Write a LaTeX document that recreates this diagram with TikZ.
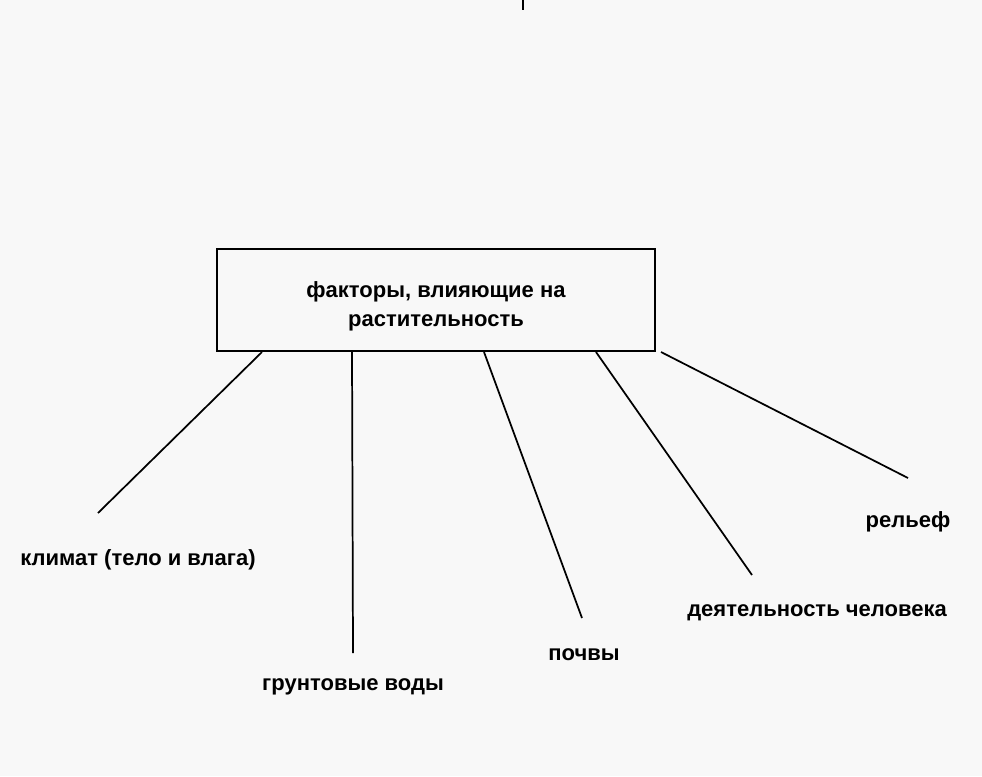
\documentclass[tikz,border=0pt]{standalone}
\usepackage{fontspec}
\setmainfont{Liberation Sans}
\usepackage{tikz}
\usetikzlibrary{calc}
\definecolor{paper}{RGB}{248,248,248}

\begin{document}
\begin{tikzpicture}[x=0.75pt, y=-0.75pt, font=\bfseries\fontsize{16.5}{21.75}\selectfont]
        \fill[paper] (0,0) rectangle (982,776);
        \useasboundingbox (0,0) rectangle (982,776);
        \draw[line width=1.3pt] (523,0) -- (523,10);

        % Main box
        \node[draw, line width=1.5pt, minimum width=328.5pt, minimum height=76.5pt, align=center] (box) at (436,300) {\rule{0pt}{22pt}факторы, влияющие на\\растительность};

        % Factors
        \node (klimat) at (138,560) {климат (тело и влага)};
        \node (vody) at (353,687) {грунтовые воды};
        \node (pochvy) at (584,655) {почвы};
        \node (deyat) at (817,613) {деятельность человека};
        \node (relief) at (908,522) {рельеф};

        % Free ends of the lines
        \coordinate (klimat-end) at (98,513);
        \coordinate (vody-end) at (353,653);
        \coordinate (pochvy-end) at (582,618);
        \coordinate (deyat-end) at (752,575);
        \coordinate (relief-end) at (908,478);

        \foreach \n/\dx in {klimat/46, vody/136, pochvy/268, deyat/380, relief/445} {
            \draw[line width=1.3pt] ($(box.south west)+(\dx,0)$) -- (\n-end);
        }
    \end{tikzpicture}
\end{document}
